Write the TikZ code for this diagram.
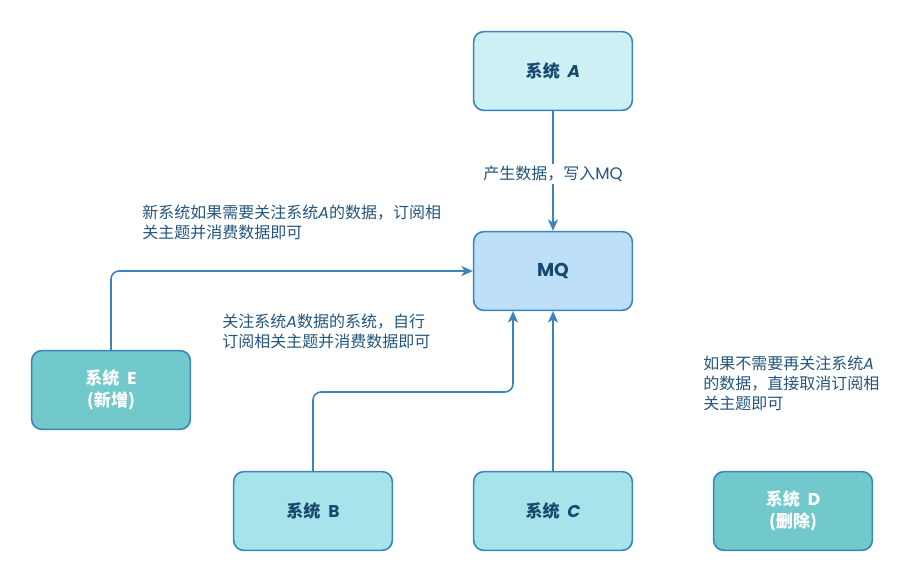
\documentclass[tikz,border=0pt]{standalone}
\usepackage{fontspec}
\setmainfont{Noto Sans CJK SC}
\newfontfamily\lat{Poppins}
\usetikzlibrary{arrows.meta,calc}
\definecolor{strokec}{HTML}{3B84BD}
\definecolor{txtc}{HTML}{17496E}
\definecolor{lblc}{HTML}{24557C}
\definecolor{fillA}{HTML}{CCF0F3}
\definecolor{fillMQ}{HTML}{BDE0F8}
\definecolor{fillBC}{HTML}{A7E3EA}
\definecolor{fillDE}{HTML}{72C9CC}
\begin{document}
\begin{tikzpicture}[x=0.75pt,y=-0.75pt,
  sysbox/.style={draw=strokec, line width=1.2pt, rounded corners=7.5pt,
    minimum width=119pt, minimum height=59pt, inner sep=0pt, align=center,
    text=txtc, font=\fontsize{12.8pt}{16pt}\selectfont\bfseries},
  newbox/.style={sysbox, fill=fillDE, text=white},
  note/.style={inner sep=0pt, align=left, text=lblc,
    font=\fontsize{12pt}{15pt}\selectfont},
  edge/.style={draw=strokec, line width=1.2pt, rounded corners=6pt,
    -{Stealth[length=8.5pt,width=7.5pt,inset=2.2pt]}}]
\useasboundingbox (0,0) rectangle (922,582);

\node[sysbox, fill=fillA] (A) at (553,71) {系统\ \ {\lat\itshape A}};
\node[sysbox, fill=fillMQ] (MQ) at (553,271) {{\lat\fontsize{14pt}{16pt}\selectfont MQ}};
\node[newbox] (E) at (111,390) {系统\ \ {\lat E}\\({新增})};
\node[sysbox, fill=fillBC] (B) at (313,511) {系统\ \ {\lat B}};
\node[sysbox, fill=fillBC] (C) at (553,511) {系统\ \ {\lat\itshape C}};
\node[newbox] (D) at (793,511) {系统\ \ {\lat D}\\({删除})};

\draw[edge] (A) -- (MQ);
\draw[edge] (E.north) |- (MQ.west);
\draw[edge] (B.north) -- (B.north |- 0,392) -| ($(MQ.south)+(-40,0)$);
\draw[edge] (C) -- (MQ);

\node[note, fill=white, inner sep=2pt] (l1) at (553,174) {产生数据，写入{\lat\fontsize{12.5pt}{15pt}\selectfont MQ}};
\node[note, anchor=west] (l2) at (142,222) {新系统如果需要关注系统{\lat\itshape A}的数据，订阅相\\关主题并消费数据即可};
\node[note, anchor=west] (l3) at (222,331) {关注系统{\lat\itshape A}数据的系统，自行\\订阅相关主题并消费数据即可};
\node[note, anchor=west] (l4) at (703,383) {如果不需要再关注系统{\lat\itshape A}\\的数据，直接取消订阅相\\关主题即可};
\end{tikzpicture}
\end{document}
